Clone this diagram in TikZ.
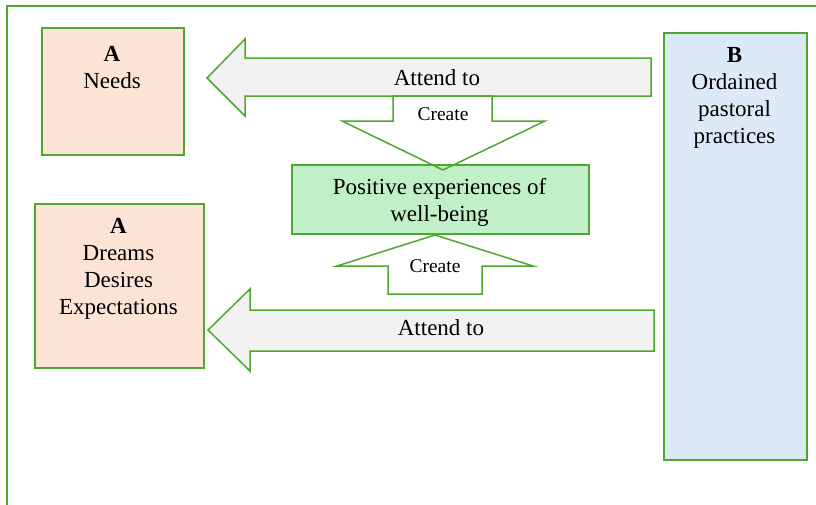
\documentclass[tikz,border=0pt]{standalone}
\usepackage{fontspec}
\setmainfont{Liberation Serif}
\definecolor{lgreen}{HTML}{4EA72E}
\definecolor{peach}{HTML}{FBE3D6}
\definecolor{lblue}{HTML}{DCEAF7}
\definecolor{mint}{HTML}{C1F0C8}
\definecolor{agray}{HTML}{F2F2F2}
\tikzset{
  boxstyle/.style={draw=lgreen, line width=2pt, anchor=north west, inner sep=0pt},
  arrowshape/.style={draw=lgreen, line width=1.5pt, line join=miter},
  bigtxt/.style={inner sep=0pt, align=center, font=\fontsize{23}{27}\selectfont},
  smalltxt/.style={inner sep=0pt, font=\fontsize{19.5}{23}\selectfont},
}
\begin{document}
\begin{tikzpicture}[x=1pt,y=-1pt]
\useasboundingbox (0,0) rectangle (816,504);
% outer frame
\draw[lgreen, line width=2pt] (7,506) -- (7,6) -- (818,6);
% boxes
\node[boxstyle, fill=peach, minimum width=142pt, minimum height=127pt] (needs) at (41,27) {};
\node[boxstyle, fill=peach, minimum width=169pt, minimum height=164pt] (dreams) at (34,203) {};
\node[boxstyle, fill=lblue, minimum width=143pt, minimum height=427pt] (practices) at (663,32) {};
\node[bigtxt, anchor=north] (needstxt) at (112,45.8) {\textbf{A}\\Needs};
\node[bigtxt, anchor=north] (dreamstxt) at (118.5,217.8) {\textbf{A}\\Dreams\\Desires\\Expectations};
\node[bigtxt, anchor=north] (practicestxt) at (734.5,46.8) {\textbf{B}\\Ordained\\pastoral\\practices};
% top attend arrow
\filldraw[arrowshape, fill=agray] (651,58) -- (245,58) -- (245,39) -- (207,78) -- (245,116) -- (245,96) -- (651,96) -- cycle;
\node[bigtxt, anchor=base] (attend1) at (437,85) {Attend to};
% top create arrow (fill)
\fill[white] (393,96) -- (393,121) -- (342,121) -- (443,170) -- (545,121) -- (492,121) -- (492,96) -- cycle;
% well-being box
\node[boxstyle, fill=mint, minimum width=297pt, minimum height=69pt] (wellbeing) at (291,164) {};
\node[bigtxt, anchor=north] (wellbeingtxt) at (439.5,178.3) {Positive experiences of\\well-being};
% top create arrow (outline)
\draw[arrowshape] (393,96) -- (393,121) -- (342,121) -- (443,170) -- (545,121) -- (492,121) -- (492,96) -- cycle;
\node[smalltxt, anchor=base] (create1) at (443,120) {Create};
% bottom create arrow
\filldraw[arrowshape, fill=white] (388,294) -- (388,266) -- (337,266) -- (435,235) -- (533,266) -- (482,266) -- (482,294) -- cycle;
\node[smalltxt, anchor=base] (create2) at (435,272) {Create};
% bottom attend arrow
\filldraw[arrowshape, fill=agray] (654,310) -- (250,310) -- (250,289) -- (208,330) -- (250,371) -- (250,351) -- (654,351) -- cycle;
\node[bigtxt, anchor=base] (attend2) at (441,335) {Attend to};
\end{tikzpicture}
\end{document}
